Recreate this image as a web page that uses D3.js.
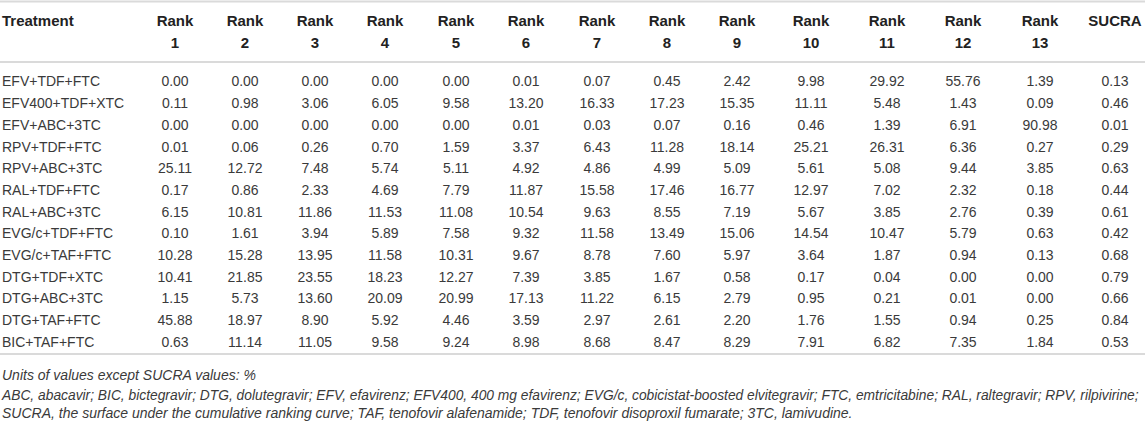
<!DOCTYPE html>
<html>
<head>
<meta charset="utf-8">
<script src="https://cdn.jsdelivr.net/npm/d3@7"></script>
<style>
  body { margin: 0; background: #fff; }
  svg text { font-family: "Liberation Sans", Arial, sans-serif; }
</style>
</head>
<body>
<div id="table-area"></div>
<script>
const treatments = [
    "EFV+TDF+FTC", "EFV400+TDF+XTC", "EFV+ABC+3TC", "RPV+TDF+FTC", "RPV+ABC+3TC",
    "RAL+TDF+FTC", "RAL+ABC+3TC", "EVG/c+TDF+FTC", "EVG/c+TAF+FTC", "DTG+TDF+XTC",
    "DTG+ABC+3TC", "DTG+TAF+FTC", "BIC+TAF+FTC"
];

const ranks = ["1", "2", "3", "4", "5", "6", "7", "8", "9", "10", "11", "12", "13"];

// rank probabilities (%), one row per treatment, rank 1..13
const rankProbs = [
    [0.00, 0.00, 0.00, 0.00, 0.00, 0.01, 0.07, 0.45, 2.42, 9.98, 29.92, 55.76, 1.39],
    [0.11, 0.98, 3.06, 6.05, 9.58, 13.20, 16.33, 17.23, 15.35, 11.11, 5.48, 1.43, 0.09],
    [0.00, 0.00, 0.00, 0.00, 0.00, 0.01, 0.03, 0.07, 0.16, 0.46, 1.39, 6.91, 90.98],
    [0.01, 0.06, 0.26, 0.70, 1.59, 3.37, 6.43, 11.28, 18.14, 25.21, 26.31, 6.36, 0.27],
    [25.11, 12.72, 7.48, 5.74, 5.11, 4.92, 4.86, 4.99, 5.09, 5.61, 5.08, 9.44, 3.85],
    [0.17, 0.86, 2.33, 4.69, 7.79, 11.87, 15.58, 17.46, 16.77, 12.97, 7.02, 2.32, 0.18],
    [6.15, 10.81, 11.86, 11.53, 11.08, 10.54, 9.63, 8.55, 7.19, 5.67, 3.85, 2.76, 0.39],
    [0.10, 1.61, 3.94, 5.89, 7.58, 9.32, 11.58, 13.49, 15.06, 14.54, 10.47, 5.79, 0.63],
    [10.28, 15.28, 13.95, 11.58, 10.31, 9.67, 8.78, 7.60, 5.97, 3.64, 1.87, 0.94, 0.13],
    [10.41, 21.85, 23.55, 18.23, 12.27, 7.39, 3.85, 1.67, 0.58, 0.17, 0.04, 0.00, 0.00],
    [1.15, 5.73, 13.60, 20.09, 20.99, 17.13, 11.22, 6.15, 2.79, 0.95, 0.21, 0.01, 0.00],
    [45.88, 18.97, 8.90, 5.92, 4.46, 3.59, 2.97, 2.61, 2.20, 1.76, 1.55, 0.94, 0.25],
    [0.63, 11.14, 11.05, 9.58, 9.24, 8.98, 8.68, 8.47, 8.29, 7.91, 6.82, 7.35, 1.84]
];

const sucra = [0.13, 0.46, 0.01, 0.29, 0.63, 0.44, 0.61, 0.42, 0.68, 0.79, 0.66, 0.84, 0.53];

const footnotes = [
    "Units of values except SUCRA values: %",
    "ABC, abacavir; BIC, bictegravir; DTG, dolutegravir; EFV, efavirenz; EFV400, 400 mg efavirenz; EVG/c, cobicistat-boosted elvitegravir; FTC, emtricitabine; RAL, raltegravir; RPV, rilpivirine;",
    "SUCRA, the surface under the cumulative ranking curve; TAF, tenofovir alafenamide; TDF, tenofovir disoproxil fumarate; 3TC, lamivudine."
];

// ---- layout ----
const width = 1145, height = 423;
const colKeys = ranks.map(r => "r" + r).concat(["sucra"]);
// column centres (the wide 5-char columns on the right get more room)
const colX = d3.scaleOrdinal()
    .domain(colKeys)
    .range([175, 245, 315, 385, 456, 526, 597, 667, 737, 811, 887, 963, 1040, 1115]);

const rowY = d3.scalePoint()
    .domain(treatments)
    .range([81.5, 342]);

const fmt = d3.format(".2f");
const lineColor = "#dadada";
const bodyColor = "#3a3a3a";

let svg = d3.select("#table-area").append("svg")
    .attr("width", width)
    .attr("height", height);

// rules
[1.5, 62, 354].forEach(y => {
    svg.append("line")
        .attr("x1", 0).attr("x2", width)
        .attr("y1", y).attr("y2", y)
        .attr("stroke", lineColor)
        .attr("stroke-width", 2);
});

// header
let header = svg.append("g").attr("class", "header")
    .attr("font-weight", "bold")
    .attr("font-size", 15)
    .attr("fill", "#222");

header.append("text")
    .attr("x", 2).attr("y", 21).attr("dy", "0.35em")
    .text("Treatment");

let rankHead = header.selectAll(".rank-head")
    .data(ranks)
    .enter()
    .append("g")
    .attr("class", "rank-head")
    .attr("transform", d => `translate(${colX("r" + d)},0)`);

rankHead.append("text")
    .attr("y", 21).attr("dy", "0.35em")
    .attr("text-anchor", "middle")
    .text("Rank");

rankHead.append("text")
    .attr("y", 43).attr("dy", "0.35em")
    .attr("text-anchor", "middle")
    .text(d => d);

header.append("text")
    .attr("x", colX("sucra")).attr("y", 21).attr("dy", "0.35em")
    .attr("text-anchor", "middle")
    .text("SUCRA");

// body rows
let rows = svg.selectAll(".table-row")
    .data(treatments)
    .enter()
    .append("g")
    .attr("class", "table-row")
    .attr("transform", d => `translate(0,${rowY(d)})`)
    .attr("font-size", 14)
    .attr("fill", bodyColor);

rows.append("text")
    .attr("x", 2).attr("dy", "0.35em")
    .text(d => d);

rows.selectAll(".cell")
    .data((d, i) => rankProbs[i].map((v, j) => ({key: "r" + ranks[j], value: v}))
        .concat([{key: "sucra", value: sucra[i]}]))
    .enter()
    .append("text")
    .attr("class", "cell")
    .attr("x", d => colX(d.key))
    .attr("dy", "0.35em")
    .attr("text-anchor", "middle")
    .text(d => fmt(d.value));

// footnotes
let notes = svg.selectAll(".footnote")
    .data(footnotes)
    .enter()
    .append("text")
    .attr("class", "footnote")
    .attr("x", 2)
    .attr("y", (d, i) => [375, 395, 413][i])
    .attr("dy", "0.35em")
    .attr("font-size", 14)
    .attr("font-style", "italic")
    .attr("fill", bodyColor)
    .text(d => d);

// shrink the font of any line that would run past the right edge
const maxLen = width - 8;
notes.each(function() {
    let len = this.getComputedTextLength();
    if (len > maxLen) {
        d3.select(this).attr("font-size", 14 * maxLen / len);
    }
});
</script>
</body>
</html>
